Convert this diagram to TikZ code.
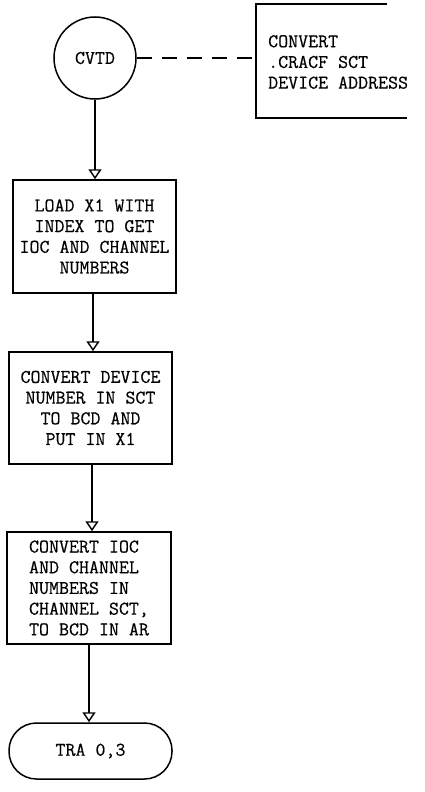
\documentclass[tikz,border=0pt]{standalone}
\usepackage{fontspec}
\newfontfamily\twfont{Latin Modern Mono}[FakeBold=0.5]
\usetikzlibrary{arrows.meta}
\begin{document}
\begin{tikzpicture}[x=1pt,y=-1pt,
  every node/.style={font=\twfont\fontsize{19.4}{20.7}\selectfont},
  ln/.style={line width=1.5pt},
  procbox/.style={draw,ln,rectangle,inner sep=0pt,minimum width=163pt,minimum height=112pt,align=center},
  arr/.style={ln,-{Triangle[open,length=10pt,width=13pt,line width=1.4pt]}},
  dashline/.style={ln,dash pattern=on 15pt off 10pt}]
\useasboundingbox[fill=white] (0,0) rectangle (425,792);

\node[draw,ln,circle,minimum size=82pt,inner sep=0pt] (cvtd) at (95,58) {CVTD};

\node[anchor=west,align=left,inner sep=0pt] (note) at (268,62) {CONVERT\\.CRACF SCT\\DEVICE ADDRESS};
\coordinate (bt) at (387,4);
\coordinate (btl) at (256,4);
\coordinate (bbl) at (256,118);
\coordinate (bb) at (407,118);
\draw[ln] (bt) -- (btl) -- (bbl) -- (bb);
\coordinate (nl) at (256,59);
\draw[dashline] (cvtd.east) -- (cvtd.east -| nl);

\node[procbox,minimum height=113pt] (b1) at (94.5,236.5) {LOAD X1 WITH\\INDEX TO GET\\IOC AND CHANNEL\\NUMBERS};
\node[procbox] (b2) at (90.5,408) {CONVERT DEVICE\\NUMBER IN SCT\\TO BCD AND\\PUT IN X1};
\node[procbox,minimum width=164pt,align=left] (b3) at (89,588) {CONVERT IOC\\AND CHANNEL\\NUMBERS IN\\CHANNEL SCT,\\TO BCD IN AR};
\node[draw,ln,rectangle,rounded corners=27.5pt,minimum width=163pt,minimum height=56pt,inner sep=0pt] (tra) at (90.5,751) {TRA 0,3};

\draw[arr] (cvtd.south) -- (cvtd.south |- b1.north);
\coordinate (a2) at (93,293);
\draw[arr] (a2 |- b1.south) -- (a2 |- b2.north);
\coordinate (a3) at (92,464);
\draw[arr] (a3 |- b2.south) -- (a3 |- b3.north);
\coordinate (a4) at (89,644);
\draw[arr] (a4 |- b3.south) -- (a4 |- tra.north);
\end{tikzpicture}
\end{document}
